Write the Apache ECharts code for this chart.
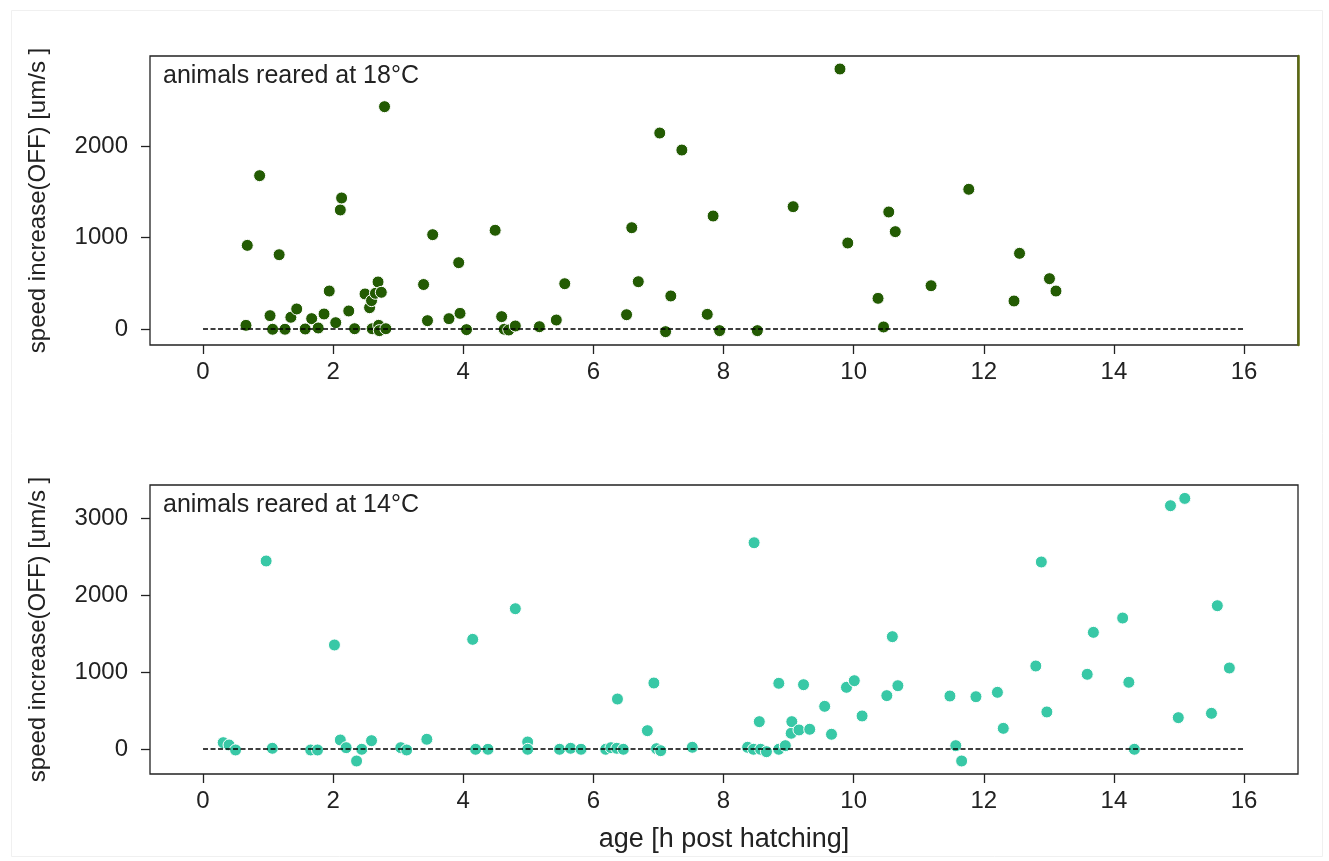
<!DOCTYPE html>
<html>
<head>
<meta charset="utf-8">
<script src="https://cdn.jsdelivr.net/npm/echarts@6/dist/echarts.min.js"></script>
<style>
  html, body { margin: 0; padding: 0; background: #fff; }
  #chart { width: 1329px; height: 861px; }
</style>
</head>
<body>
<div id="chart"></div>
<script>
// ---- data ----
const age18 = [0.66, 0.68, 0.87, 1.03, 1.07, 1.17, 1.26, 1.35, 1.44, 1.57, 1.67, 1.77, 1.86, 1.94, 2.04,
  2.11, 2.13, 2.24, 2.33, 2.49, 2.56, 2.59, 2.60, 2.65, 2.69, 2.70, 2.71, 2.74, 2.79, 2.81,
  3.39, 3.45, 3.53, 3.78, 3.93, 3.95, 4.05, 4.49, 4.59, 4.63, 4.70, 4.80, 5.17, 5.43, 5.56,
  6.51, 6.59, 6.69, 7.02, 7.11, 7.19, 7.36, 7.75, 7.84, 7.94, 8.52, 9.07, 9.79, 9.91,
  10.375, 10.46, 10.54, 10.64, 11.19, 11.77, 12.465, 12.55, 13.01, 13.11];
const speed18 = [40, 914, 1676, 146, -3, 812, -3, 128, 219, 0, 113, 11, 164, 415, 69,
  1301, 1432, 197, 3, 383, 233, 310, 3, 390, 514, 40, -18, 401, 2430, 3,
  486, 91, 1031, 113, 725, 171, -7, 1079, 135, -3, -11, 33, 25, 98, 495,
  156, 1107, 517, 2142, -29, 361, 1956, 160, 1235, -18, -18, 1337, 2842, 940,
  335, 22, 1279, 1064, 473, 1527, 306, 827, 550, 415];

const age14 = [0.31, 0.40, 0.50, 0.97, 1.065, 1.655, 1.76, 2.02, 2.11, 2.20, 2.36, 2.44, 2.59, 3.04, 3.13,
  3.44, 4.145, 4.19, 4.38, 4.80, 4.99, 4.99, 5.48, 5.65, 5.81, 6.19, 6.27, 6.36, 6.37, 6.46,
  6.83, 6.93, 6.97, 7.035, 7.52, 8.37, 8.46, 8.47, 8.55, 8.57, 8.66, 8.85, 8.85, 8.95, 9.04,
  9.05, 9.16, 9.23, 9.325, 9.555, 9.66, 9.89, 10.01, 10.13, 10.51, 10.595, 10.68, 11.48, 11.57,
  11.66, 11.88, 12.21, 12.30, 12.80, 12.885, 12.97, 13.59, 13.685, 14.135, 14.23, 14.315, 14.87,
  14.99, 15.09, 15.50, 15.59, 15.775];
const speed14 = [82, 52, -13, 2442, 9, -13, -13, 1351, 117, 17, -156, -4, 108, 17, -13,
  126, 1424, -4, -4, 1822, 91, -4, -4, 9, -4, -4, 17, 9, 649, -4,
  238, 857, 4, -22, 22, 22, -4, 2679, 355, -4, -35, -4, 853, 43, 204,
  355, 247, 835, 256, 554, 191, 801, 887, 429, 693, 1459, 822, 688, 43,
  -156, 679, 736, 268, 1078, 2429, 481, 970, 1515, 1701, 866, -4, 3160,
  407, 3255, 463, 1861, 1052];

// zero reference line
const refAge = [0, 16];
const refSpeed = [0, 0];

// tick labels
const xTicks = [0, 2, 4, 6, 8, 10, 12, 14, 16];
const yTicks18 = [0, 1000, 2000];
const yTicks14 = [0, 1000, 2000, 3000];

const panelLabels = ['animals reared at 18°C', 'animals reared at 14°C'];
const xName = 'age [h post hatching]';
const yName = 'speed increase(OFF) [um/s ]';

const COL18 = '#235b03';
const COL14 = '#38c8a6';
const FONT = 'Liberation Sans, Arial, sans-serif';
const INK = '#222';

const pairs = (xs, ys) => xs.map((x, i) => [x, ys[i]]);

function xAxisFor(gridIndex, withName) {
  return {
    type: 'value', gridIndex, min: -0.815, max: 16.83,
    splitLine: { show: false },
    axisLine: { show: false, onZero: false },
    axisTick: { show: true, length: 9, lineStyle: { color: INK, width: 1.3 }, customValues: xTicks },
    axisLabel: { color: INK, fontSize: 24, fontFamily: FONT, margin: 15, customValues: xTicks, formatter: v => String(v) },
    name: withName ? xName : '',
    nameLocation: 'middle', nameGap: 52,
    nameTextStyle: { color: INK, fontSize: 27, fontFamily: FONT }
  };
}

function yAxisFor(gridIndex, min, max, ticks) {
  return {
    type: 'value', gridIndex, min, max,
    splitLine: { show: false },
    axisLine: { show: false, onZero: false },
    axisTick: { show: true, length: 9, lineStyle: { color: INK, width: 1.3 }, customValues: ticks },
    axisLabel: { color: INK, fontSize: 24, fontFamily: FONT, margin: 22, customValues: ticks, formatter: v => String(v) },
    name: yName, nameLocation: 'middle', nameGap: 100, nameRotate: 90,
    nameTextStyle: { color: INK, fontSize: 24, fontFamily: FONT }
  };
}

const chart = echarts.init(document.getElementById('chart'), null, { renderer: 'canvas' });

chart.setOption({
  backgroundColor: '#fff',
  animation: false,
  title: panelLabels.map((t, i) => ({
    text: t, left: 163, top: i === 0 ? 64 : 493, padding: 0,
    textStyle: { color: INK, fontSize: 25, fontWeight: 'normal', fontFamily: FONT }
  })),
  graphic: [{
    type: 'rect', left: 9, top: 8, silent: true,
    shape: { width: 1311, height: 846 },
    style: { fill: 'none', stroke: '#f0f0f0', lineWidth: 1 }
  }],
  grid: [
    { left: 150, top: 56, width: 1148, height: 289, show: true, borderColor: INK, borderWidth: 1.3, backgroundColor: 'transparent' },
    { left: 150, top: 485, width: 1148, height: 289, show: true, borderColor: INK, borderWidth: 1.3, backgroundColor: 'transparent' }
  ],
  xAxis: [xAxisFor(0, false), xAxisFor(1, true)],
  yAxis: [
    yAxisFor(0, -175, 2984, yTicks18),
    yAxisFor(1, -325, 3429, yTicks14),
    // olive right edge on the upper panel
    {
      type: 'value', gridIndex: 0, position: 'right', min: -175, max: 2984,
      axisLine: { show: true, onZero: false, lineStyle: { color: '#5c6a10', width: 2.5 } },
      axisTick: { show: false }, axisLabel: { show: false }, splitLine: { show: false }
    }
  ],
  series: [
    {
      type: 'scatter', xAxisIndex: 0, yAxisIndex: 0, data: pairs(age18, speed18),
      symbolSize: 12, itemStyle: { color: COL18, borderColor: '#fff', borderWidth: 1, opacity: 1 }, z: 2
    },
    {
      type: 'line', xAxisIndex: 0, yAxisIndex: 0, data: pairs(refAge, refSpeed),
      symbol: 'none', lineStyle: { color: '#000', width: 1.3, type: [5, 2.5] }, z: 3
    },
    {
      type: 'scatter', xAxisIndex: 1, yAxisIndex: 1, data: pairs(age14, speed14),
      symbolSize: 12, itemStyle: { color: COL14, borderColor: '#fff', borderWidth: 1, opacity: 1 }, z: 2
    },
    {
      type: 'line', xAxisIndex: 1, yAxisIndex: 1, data: pairs(refAge, refSpeed),
      symbol: 'none', lineStyle: { color: '#000', width: 1.3, type: [5, 2.5] }, z: 3
    }
  ]
});

window.addEventListener('resize', () => chart.resize());
</script>
</body>
</html>
